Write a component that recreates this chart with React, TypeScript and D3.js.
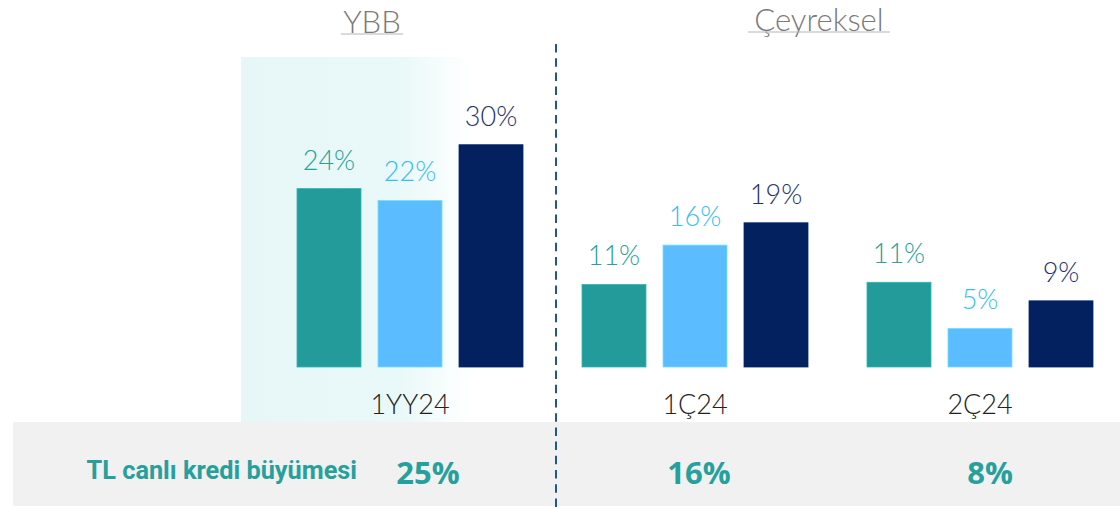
import React from 'react';
import * as d3 from 'd3';

// bar groups and series (values in %)
const categories = ['1YY24', '1Ç24', '2Ç24'];
const seriesTeal = [24.0, 11.1, 11.4];
const seriesSky = [22.4, 16.4, 5.2];
const seriesNavy = [29.9, 19.4, 8.9];
const loanGrowth = [25, 16, 8];
const loanGrowthLabel = 'TL canlı kredi büyümesi';
const sectionTitles = ['YBB', 'Çeyreksel'];

const seriesColors = ['#229b9a', '#5bbdff', '#03205f'];
const labelColors = ['#2b9f9c', '#36bef7', '#1e3370'];
const accent = '#26a09c';
const thinFont = "Lato, 'Open Sans', sans-serif";

const W = 1120;
const H = 509;

export default function App() {
    const series = [seriesTeal, seriesSky, seriesNavy];

    const x0 = d3.scaleBand<string>().domain(categories).range([297, 1093]).paddingInner(0.207).paddingOuter(0);
    const x1 = d3.scaleBand<number>().domain([0, 1, 2]).range([0, x0.bandwidth()]).paddingInner(0.21);
    const y = d3.scaleLinear().domain([0, 30]).range([367, 144]);
    const fmt = (v: number) => `${d3.format('.0f')(v)}%`;

    // small horizontal nudges for the bottom-row figures
    const totalNudge = [18, 4, 10];

    return (
        <>
            <style>{'body{margin:0}'}</style>
            <svg width={W} height={H} style={{ display: 'block' }} fontFamily="Roboto, 'Noto Sans', sans-serif">
                <defs>
                    <linearGradient id="ytdGlow" x1="0" x2="1" y1="0" y2="0">
                        <stop offset="0" stopColor="#e7f7f8" />
                        <stop offset="0.68" stopColor="#e9f8f8" />
                        <stop offset="1" stopColor="#ffffff" />
                    </linearGradient>
                </defs>

                {/* YTD highlight */}
                <rect x={241} y={57} width={230} height={365} fill="url(#ytdGlow)" />

                {/* bottom band */}
                <rect x={13} y={422} width={W - 13} height={84} fill="#f1f1f1" />

                {/* section titles */}
                {sectionTitles.map((t, i) => {
                    const cx = i === 0 ? 372 : 819;
                    const by = i === 0 ? 33 : 31;
                    const w = i === 0 ? 62 : 142;
                    return (
                        <g key={t}>
                            <text x={cx} y={by} textAnchor="middle" fontSize={31} fontWeight={300} fontFamily={thinFont} fill="#7a7a7a">{t}</text>
                            <line x1={cx - w / 2} x2={cx + w / 2} y1={by + 1} y2={by + 1} stroke="#b5b5b5" strokeWidth={1} />
                        </g>
                    );
                })}

                {/* divider */}
                <line x1={556} x2={556} y1={44} y2={H} stroke="#1d5896" strokeWidth={2} strokeDasharray="8.5 5.7" />

                {categories.map((c, ci) => {
                    const gx = x0(c)!;
                    return (
                        <g key={c}>
                            {series.map((s, si) => {
                                const bx = gx + x1(si)!;
                                const top = y(s[ci]);
                                return (
                                    <g key={si}>
                                        <rect
                                            x={bx}
                                            y={top}
                                            width={x1.bandwidth()}
                                            height={y(0) - top}
                                            fill={seriesColors[si]}
                                            stroke={d3.color(seriesColors[si])!.brighter(0.5).formatHex()}
                                            strokeWidth={0.8}
                                        />
                                        <text
                                            x={bx + x1.bandwidth() / 2}
                                            y={top - 19}
                                            textAnchor="middle"
                                            fontSize={27}
                                            fontWeight={300}
                                            fontFamily={thinFont}
                                            fill={labelColors[si]}
                                        >
                                            {fmt(s[ci])}
                                        </text>
                                    </g>
                                );
                            })}
                            <text x={gx + x0.bandwidth() / 2} y={414} textAnchor="middle" fontSize={27} fontWeight={300} fontFamily={thinFont} fill="#222">
                                {c}
                            </text>
                            <text
                                x={gx + x0.bandwidth() / 2 + totalNudge[ci]}
                                y={484}
                                textAnchor="middle"
                                fontSize={31}
                                fontWeight={700}
                                fontFamily="'Open Sans', sans-serif"
                                fill={accent}
                            >
                                {fmt(loanGrowth[ci])}
                            </text>
                        </g>
                    );
                })}

                <text x={357} y={479} textAnchor="end" fontSize={25.3} fontWeight={700} fill={accent}>
                    {loanGrowthLabel}
                </text>
            </svg>
        </>
    );
}
